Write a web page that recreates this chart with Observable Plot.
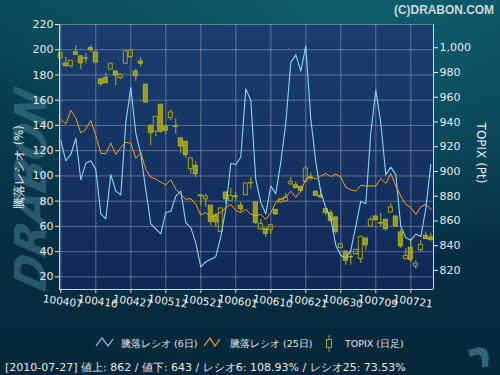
<!DOCTYPE html>
<html><head><meta charset="utf-8">
<script src="https://cdn.jsdelivr.net/npm/d3@7/dist/d3.min.js"></script>
<script src="https://cdn.jsdelivr.net/npm/@observablehq/plot@0.6/dist/plot.umd.min.js"></script>
<style>
html,body{margin:0;padding:0;background:#052637;}
#wrap{position:relative;width:500px;height:375px;overflow:hidden;font-family:"DejaVu Sans",sans-serif;
 background:radial-gradient(ellipse 380px 260px at 360px 0px, rgba(15,96,112,0.9), rgba(15,96,112,0) 100%),
  linear-gradient(180deg,#0a4b5b 0%,#083d50 28%,#062e42 65%,#05273a 100%);}
#bg{position:absolute;left:0;top:0;z-index:0;}
#chart{position:absolute;left:0;top:0;width:500px;height:320px;z-index:1;}
#fg{position:absolute;left:0;top:0;z-index:2;}
#err{position:absolute;left:60px;top:100px;z-index:5;color:#f66;font-size:11px;width:370px;}
</style></head><body>
<div id="wrap">
<svg id="bg" width="500" height="375">
 <text transform="translate(46,293) rotate(-90) skewX(-14)" font-family="DejaVu Sans" font-weight="bold" font-style="italic" font-size="44" fill="#4b8396" fill-opacity="0.5" textLength="200" lengthAdjust="spacingAndGlyphs">DRABON</text>
</svg>
<div id="chart"></div>
<svg id="fg" width="500" height="375" style="pointer-events:none">
 <text x="494" y="14" text-anchor="end" font-family="Liberation Sans" font-weight="bold" font-size="12.5" fill="#d2d6d8" textLength="100" lengthAdjust="spacingAndGlyphs">(C)DRABON.COM</text>
 <text id="ylabL" transform="translate(23,167) rotate(-90)" text-anchor="middle" font-family="DejaVu Sans" font-size="11.5" fill="#e8ecee"></text>
 <text id="ylabR" transform="translate(477,153) rotate(90)" text-anchor="middle" font-family="DejaVu Sans" font-size="12" fill="#e8ecee"></text>
 <g id="legend" font-family="DejaVu Sans" font-size="9.5" fill="#e4e8ea"></g>
 <text id="footer" x="5" y="371" font-family="DejaVu Sans" font-size="11" fill="#e6e9eb"></text>
 <polygon points="468,350 479,347 486,349 489,356 488,367 482,367 482,358 478,354 470,357" fill="#3d6d7d" fill-opacity="0.85"/>
</svg>
<div id="err"></div>
</div>
<script>
// ---- data ----
const dates = [
 "100407","100408","100409","100412","100413","100414","100415","100416","100419","100420",
 "100421","100422","100423","100426","100427","100428","100430","100506","100507","100510",
 "100511","100512","100513","100514","100517","100518","100519","100520","100521","100524",
 "100525","100526","100527","100528","100531","100601","100602","100603","100604","100607",
 "100608","100609","100610","100611","100614","100615","100616","100617","100618","100621",
 "100622","100623","100624","100625","100628","100629","100630","100701","100702","100705",
 "100706","100707","100708","100709","100712","100713","100714","100715","100716","100720",
 "100721","100722","100723","100726","100727"];
const xTickLabels = ["100407","100416","100427","100512","100521","100601","100610","100621","100630","100709","100721"];
const ratio6 = [128,112,117,130,97,110,112,105,70,66,
 101,88,85,142,170,134,117,89,62,58,
 54,71,72,84,88,63,59,47,28,32,
 34,36,52,74,110,109,115,169,160,97,
 79,70,92,86,111,142,190,196,183,203,
 145,111,87,75,66,45,37,35,41,60,
 80,78,134,168,142,101,107,101,60,51,
 49,54,52,74,108.93];
const ratio25 = [145,141,152,146,134,137,144,132,118,117.5,
 126,117,122.5,126.5,126,114,118.5,105,99,97.5,
 95,93,97,89.5,85.5,81.5,82,77.5,69,71,
 67,69.5,71,75,77.5,72.5,71,73.5,69.5,68.5,
 69.5,65.5,71,79,81.5,83,88,83,88,97.5,
 99,97.5,100,102,99.5,101.5,99,91,89,88,
 92.5,92,92,92,98,94,102,92,84,77.5,
 75,69.5,75.5,77.5,73.53];
const topixOpen = [991.6,987.3,985.1,996.2,993.0,991.0,999.7,996.2,974.4,975.7,
 982.4,980.8,975.4,987.1,992.4,980.8,988.9,970.1,936.9,932.1,
 953.9,936.4,943.1,936.4,926.7,924.0,901.9,904.6,880.6,877.6,
 872.3,864.2,851.2,883.0,876.3,879.8,872.3,880.8,890.3,874.9,
 853.3,853.7,852.5,869.0,874.9,875.7,889.7,888.9,887.6,891.7,
 895.3,883.6,880.3,869.5,866.3,862.8,838.0,835.3,830.9,833.1,
 829.1,845.8,855.5,863.6,858.2,860.9,866.8,863.6,850.7,829.1,
 838.3,823.4,836.4,848.0,846.6];
const topixHigh = [996.0,992.1,989.7,1001.8,993.8,995.0,1001.8,996.6,974.8,979.5,
 987.4,981.2,978.8,997.3,998.2,982.4,991.6,970.5,937.5,944.5,
 954.3,936.8,949.5,942.8,927.0,924.4,911.0,907.8,880.8,881.6,
 872.7,866.0,870.5,883.4,886.5,883.0,875.0,890.6,895.1,875.5,
 861.2,854.0,857.0,869.4,878.0,882.2,895.1,891.7,888.0,904.6,
 898.6,884.0,886.2,870.0,868.5,863.2,841.6,835.7,836.4,837.0,
 847.6,846.2,862.8,864.0,866.3,861.3,874.1,864.0,852.9,837.7,
 845.3,827.8,844.0,851.1,850.1];
const topixLow = [991.0,984.1,983.5,993.8,982.2,986.9,996.2,987.5,968.7,971.0,
 982.0,969.5,974.1,986.8,991.1,973.0,984.3,955.2,920.8,928.0,
 930.7,929.9,941.0,930.1,914.8,910.5,897.8,895.1,872.3,870.9,
 856.1,854.7,850.8,873.6,876.0,876.3,866.8,880.5,885.7,857.1,
 853.0,846.6,849.1,864.4,874.5,875.3,888.4,886.0,884.0,891.3,
 892.5,880.0,878.2,864.2,858.8,849.1,837.6,824.2,824.2,832.8,
 825.6,836.4,855.0,860.2,855.5,851.5,866.4,855.1,838.0,828.8,
 826.4,821.0,834.5,845.0,843.4];
const topixClose = [995.4,985.1,989.5,994.3,987.5,991.6,998.1,988.1,970.7,971.4,
 987.1,977.6,978.4,997.0,997.8,977.0,987.1,955.8,931.0,944.2,
 932.1,932.9,947.7,935.9,920.2,913.2,910.5,897.8,880.0,879.8,
 859.3,858.8,870.1,877.6,880.3,879.3,869.5,890.3,890.7,858.5,
 857.7,849.6,856.6,865.5,877.6,879.0,891.7,886.5,884.4,902.4,
 894.9,880.3,879.0,866.3,860.1,851.1,841.2,827.8,830.5,836.7,
 847.2,840.4,860.9,860.6,857.8,853.3,870.9,855.5,839.4,831.8,
 828.6,825.6,840.7,845.3,844.8];
const advances = 862, declines = 643;
const leftTicks = [20,40,60,80,100,120,140,160,180,200,220];
const rightTicks = [820,840,860,880,900,920,940,960,980,1000];
const seriesNames = ["騰落レシオ (6日)","騰落レシオ (25日)","TOPIX (日足)"];
const leftTitle = "騰落レシオ (%)", rightTitle = "TOPIX (Pt)";

const BLUE = "#8ad6f6", ORANGE = "#ffa214", OLIVE = "#a3a312", OLIVE_S = "#b2b21c";
try {
  const yMin = 10, yMax = 220, tMin = 804.6, tMax = 1018.8;
  const toL = v => yMin + (v - tMin) * (yMax - yMin) / (tMax - tMin);
  const fromL = y => tMin + (y - yMin) * (tMax - tMin) / (yMax - yMin);
  const xDom = [-0.26, dates.length - 1 + 0.54];
  const rows = dates.map((d, i) => ({i, d, r6: ratio6[i], r25: ratio25[i],
    o: topixOpen[i], h: topixHigh[i], l: topixLow[i], c: topixClose[i]}));
  const tickIdx = xTickLabels.map(l => dates.indexOf(l));
  const fmt = d3.format(",");

  const chart = Plot.plot({
    width: 500, height: 320,
    marginLeft: 59, marginRight: 67, marginTop: 24, marginBottom: 31,
    style: {background: "transparent", color: "#e6eaec", fontFamily: "DejaVu Sans", fontSize: "11px", overflow: "visible"},
    x: {domain: xDom, axis: null},
    y: {domain: [yMin, yMax], axis: null},
    marks: [
      Plot.frame({fill: "#163463", stroke: null}),
      Plot.gridY(leftTicks, {stroke: "#ffffff", strokeOpacity: 0.3}),
      Plot.gridX(tickIdx, {stroke: "#ffffff", strokeOpacity: 0.3}),
      Plot.ruleX(rows, {x: "i", y1: d => toL(d.h), y2: d => toL(Math.max(d.o, d.c)), stroke: OLIVE_S}),
      Plot.ruleX(rows, {x: "i", y1: d => toL(Math.min(d.o, d.c)), y2: d => toL(d.l), stroke: OLIVE_S}),
      Plot.rect(rows, {filter: d => d.c < d.o, x1: d => d.i - 0.4, x2: d => d.i + 0.4,
        y1: d => toL(d.o), y2: d => toL(d.c), fill: OLIVE, fillOpacity: 0.92, stroke: OLIVE_S}),
      Plot.rect(rows, {filter: d => d.c >= d.o, x1: d => d.i - 0.4, x2: d => d.i + 0.4,
        y1: d => toL(d.o), y2: d => toL(d.c), fill: "none", stroke: OLIVE}),
      Plot.line(rows, {x: "i", y: "r6", stroke: BLUE, strokeWidth: 1.1}),
      Plot.line(rows, {x: "i", y: "r25", stroke: ORANGE, strokeWidth: 1}),
      Plot.ruleX([xDom[0], xDom[1]], {stroke: "#d4dadf"}),
      Plot.ruleY([yMin], {stroke: "#d4dadf"}),
      Plot.axisY(leftTicks, {anchor: "left", tickSize: 4, tickPadding: 2, fontSize: 11, label: null}),
      Plot.axisY(rightTicks.map(toL), {anchor: "right", tickSize: 4, tickPadding: 2, fontSize: 11, label: null,
        tickFormat: d => fmt(Math.round(fromL(d)))}),
      Plot.axisX(tickIdx, {anchor: "bottom", tickSize: 4, tickFormat: () => "", label: null}),
      Plot.text(tickIdx, {x: d => d, text: d => dates[d], frameAnchor: "bottom", dy: 12, dx: 2,
        rotate: 8, fontSize: 10.5, fill: "#eef1f3", lineAnchor: "middle", textAnchor: "middle"})
    ]
  });
  // plot-area gradient
  const NS0 = "http://www.w3.org/2000/svg";
  const defs = document.createElementNS(NS0, "defs");
  defs.innerHTML = '<linearGradient id="plotbg" x1="0" y1="0" x2="0" y2="1"><stop offset="0" stop-color="#1a3e6e"/><stop offset="1" stop-color="#112857"/></linearGradient>';
  chart.insertBefore(defs, chart.firstChild);
  const fr = chart.querySelector("rect");
  if (fr) fr.setAttribute("fill", "url(#plotbg)");
  document.getElementById("chart").appendChild(chart);
} catch (e) {
  document.getElementById("err").textContent = "ERR: " + e.message;
}

// ---- titles, legend, footer ----
document.getElementById("ylabL").textContent = leftTitle;
document.getElementById("ylabR").textContent = rightTitle;
const NS = "http://www.w3.org/2000/svg";
const lg = document.getElementById("legend");
function el(tag, attrs, txt) {
  const e = document.createElementNS(NS, tag);
  for (const k in attrs) e.setAttribute(k, attrs[k]);
  if (txt != null) e.textContent = txt;
  lg.appendChild(e);
  return e;
}
el("polyline", {points: "96,346 102,338 108,346 113,339", fill: "none", stroke: BLUE, "stroke-width": 1.2});
el("text", {x: 121, y: 347}, seriesNames[0]);
el("polyline", {points: "204,346 210,338 215,346 220,339", fill: "none", stroke: ORANGE, "stroke-width": 1.2});
el("text", {x: 230, y: 347}, seriesNames[1]);
el("line", {x1: 329, y1: 335, x2: 329, y2: 352, stroke: OLIVE});
el("rect", {x: 326.5, y: 339.5, width: 5, height: 8, fill: "#0a2f44", stroke: OLIVE});
el("text", {x: 345, y: 347}, seriesNames[2]);

const last = dates.length - 1, ld = dates[last];
const dateStr = "20" + ld.slice(0, 2) + "-" + ld.slice(2, 4) + "-" + ld.slice(4, 6);
document.getElementById("footer").textContent =
  `[${dateStr}] 値上: ${advances} / 値下: ${declines} / レシオ6: ${ratio6[last].toFixed(2)}% / レシオ25: ${ratio25[last].toFixed(2)}%`;
</script>
</body></html>
